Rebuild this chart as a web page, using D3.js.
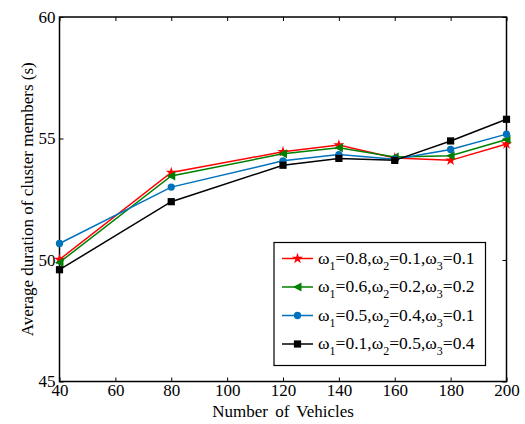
<!DOCTYPE html>
<html>
<head>
<meta charset="utf-8">
<script src="https://d3js.org/d3.v7.min.js"></script>
<style>
body { margin: 0; background: #fff; }
text { font-family: "Liberation Serif", "Times New Roman", serif; fill: #000; }
</style>
</head>
<body>
<svg id="chart" width="525" height="424"></svg>
<script>
// data
var vehicles = [40, 80, 120, 140, 160, 180, 200];
var w1 = [50.02, 53.6, 54.45, 54.73, 54.2, 54.1, 54.77];   // 0.8,0.1,0.1
var w2 = [49.9, 53.46, 54.37, 54.62, 54.24, 54.29, 54.96]; // 0.6,0.2,0.2
var w3 = [50.68, 53.0, 54.08, 54.34, 54.15, 54.55, 55.18]; // 0.5,0.4,0.1
var w4 = [49.6, 52.4, 53.9, 54.18, 54.1, 54.9, 55.79];     // 0.1,0.5,0.4
var xTicks = [40, 60, 80, 100, 120, 140, 160, 180, 200];
var yTicks = [45, 50, 55, 60];
var legendWeights = [["0.8", "0.1", "0.1"], ["0.6", "0.2", "0.2"], ["0.5", "0.4", "0.1"], ["0.1", "0.5", "0.4"]];

var series = [
  {vals: w1, color: "#ff0000", marker: "star"},
  {vals: w2, color: "#008000", marker: "tri"},
  {vals: w3, color: "#0072bd", marker: "circle"},
  {vals: w4, color: "#000000", marker: "square"}
];

var svg = d3.select("#chart");
var pl = 59.5, pr = 506.5, pt = 17, pb = 381.5;

var x = d3.scaleLinear().domain([40, 200]).range([pl, pr]);
var y = d3.scaleLinear().domain([45, 60]).range([pb, pt]);

// frame
svg.append("rect")
  .attr("x", pl).attr("y", pt)
  .attr("width", pr - pl).attr("height", pb - pt)
  .attr("fill", "none").attr("stroke", "#000").attr("stroke-width", 1.5);

// inward ticks, all four sides
var tl = 4;
svg.append("g").attr("transform", "translate(0," + pb + ")")
  .call(d3.axisBottom(x).tickValues(xTicks).tickSizeInner(-tl).tickSizeOuter(0).tickPadding(2))
  .call(function(g) {
    g.select(".domain").remove();
    g.selectAll("text").attr("font-size", 17).attr("font-family", "Liberation Serif");
  });
svg.append("g").attr("transform", "translate(0," + pt + ")")
  .call(d3.axisTop(x).tickValues(xTicks).tickSizeInner(-tl).tickSizeOuter(0).tickFormat(""))
  .call(function(g) { g.select(".domain").remove(); });
svg.append("g").attr("transform", "translate(" + pl + ",0)")
  .call(d3.axisLeft(y).tickValues(yTicks).tickSizeInner(-tl).tickSizeOuter(0).tickPadding(4))
  .call(function(g) {
    g.select(".domain").remove();
    g.selectAll("text").attr("font-size", 17).attr("font-family", "Liberation Serif");
  });
svg.append("g").attr("transform", "translate(" + pr + ",0)")
  .call(d3.axisRight(y).tickValues(yTicks).tickSizeInner(-tl).tickSizeOuter(0).tickFormat(""))
  .call(function(g) { g.select(".domain").remove(); });
svg.selectAll(".tick line").attr("stroke", "#000").attr("stroke-width", 1);

// axis titles
svg.append("text")
  .attr("x", (pl + pr) / 2).attr("y", 417)
  .attr("text-anchor", "middle").attr("font-size", 17)
  .attr("word-spacing", "3px")
  .text("Number of Vehicles");
svg.append("text")
  .attr("transform", "translate(33," + (pt + pb) / 2 + ") rotate(-90)")
  .attr("text-anchor", "middle").attr("font-size", 17)
  .text("Average duration of cluster members (s)");

function markerPath(type) {
  if (type === "star") return d3.symbol(d3.symbolStar, 38)();
  if (type === "circle") return d3.symbol(d3.symbolCircle, 42)();
  if (type === "square") return d3.symbol(d3.symbolSquare, 52)();
  // left-pointing triangle
  return "M-4.5,0L4,-4.5L4,4.5Z";
}

var line = d3.line().x(function(d, i) { return x(vehicles[i]); }).y(function(d) { return y(d); });

series.forEach(function(s) {
  var g = svg.append("g");
  g.append("path").datum(s.vals)
    .attr("d", line).attr("fill", "none")
    .attr("stroke", s.color).attr("stroke-width", 1.5);
  g.selectAll("path.mk").data(s.vals).enter().append("path")
    .attr("class", "mk")
    .attr("d", markerPath(s.marker))
    .attr("transform", function(d, i) { return "translate(" + x(vehicles[i]) + "," + y(d) + ")"; })
    .attr("fill", s.color);
});

// legend
var lx = 274, ly = 242.5, lw = 211.5, lh = 123;
svg.append("rect").attr("x", lx).attr("y", ly).attr("width", lw).attr("height", lh)
  .attr("fill", "#fff").attr("stroke", "#000").attr("stroke-width", 1.2);

var rowY = d3.scaleLinear().domain([0, 3]).range([258.5, 344]);
series.forEach(function(s, i) {
  var yy = rowY(i);
  svg.append("line").attr("x1", 282).attr("x2", 313).attr("y1", yy).attr("y2", yy)
    .attr("stroke", s.color).attr("stroke-width", 1.5);
  svg.append("path").attr("d", markerPath(s.marker))
    .attr("transform", "translate(297.5," + yy + ")").attr("fill", s.color);
  var t = svg.append("text").attr("x", 318).attr("y", yy + 5).attr("font-size", 17.5);
  legendWeights[i].forEach(function(v, k) {
    t.append("tspan").text("ω");
    t.append("tspan").attr("font-size", 12).attr("dy", 6).text(k + 1);
    t.append("tspan").attr("dy", -6).text("=" + v + (k < 2 ? "," : ""));
  });
});
</script>
</body>
</html>
